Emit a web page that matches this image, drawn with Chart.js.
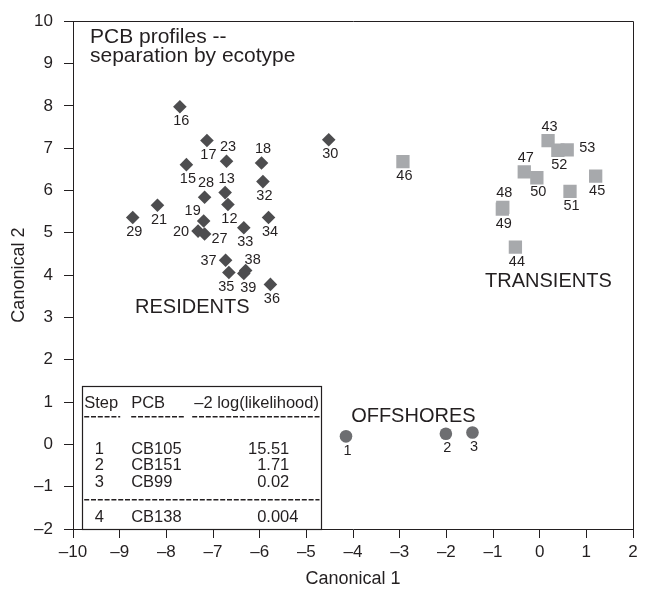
<!DOCTYPE html>
<html><head><meta charset="utf-8">
<script src="https://cdn.jsdelivr.net/npm/chart.js@4.4.1/dist/chart.umd.min.js"></script>
<style>html,body{margin:0;padding:0;background:#fff}#wrap{width:646px;height:592px}</style>
</head><body><div id="wrap"><canvas id="c" width="646" height="592"></canvas></div>
<script>
// ---- data ----
const residentIds = ['16','17','23','18','15','32','13','28','12','21','29','34','19','33','20','27','37','35','38','39','36','30'];
const residentX   = [-7.71,-7.13,-6.71,-5.96,-7.57,-5.93,-6.74,-7.18,-6.68,-8.19,-8.72,-5.81,-7.20,-6.34,-7.32,-7.18,-6.73,-6.66,-6.30,-6.34,-5.77,-4.52];
const residentY   = [7.98,7.18,6.69,6.65,6.61,6.21,5.95,5.84,5.67,5.65,5.36,5.36,5.28,5.12,5.04,4.97,4.35,4.06,4.11,4.04,3.78,7.20];

const transientIds = ['43','52','53','47','50','45','51','48','49','44','46'];
const transientX   = [0.18,0.39,0.59,-0.33,-0.06,1.20,0.65,-0.79,-0.80,-0.52,-2.93];
const transientY   = [7.18,6.95,6.96,6.44,6.30,6.34,5.98,5.60,5.56,4.66,6.68];

const offshoreIds = ['1','2','3'];
const offshoreX   = [-4.15,-2.01,-1.44];
const offshoreY   = [0.19,0.25,0.28];

const xTicks = [-10,-9,-8,-7,-6,-5,-4,-3,-2,-1,0,1,2];
const yTicks = [-2,-1,0,1,2,3,4,5,6,7,8,9,10];

const tableHeader = ['Step','PCB','\u20132 log(likelihood)'];
const tableSteps  = ['1','2','3','4'];
const tablePCB    = ['CB105','CB151','CB99','CB138'];
const tableLL     = ['15.51','1.71','0.02','0.004'];

const groupNames = ['RESIDENTS','TRANSIENTS','OFFSHORES'];
const titleLines = ['PCB profiles --','separation by ecotype'];

// ---- styles ----
const FONT = '"Liberation Sans", Arial, Helvetica, sans-serif';
const INK = '#231f20';
const toPts = (xs, ys) => xs.map((x, i) => ({x, y: ys[i]}));
const fmt = v => v < 0 ? '\u2013' + Math.abs(v) : String(v);

const labelPlace = {'23':'a','18':'a','13':'a','28':'a','19':'ul','20':'l','27':'r','37':'l','38':'ur',
                    '43':'a','47':'a','48':'a','53':'r2','35':'bl','39':'br'};
const placeOff = {b:[1.5,14.5], a:[1.5,-14], l:[-17,1], r:[15,5], r2:[20,-1.5], ul:[-11,-10], ur:[7,-10],
                  bl:[-2.5,14.5], br:[4.5,14.5]};
// group name anchors in data coordinates (left, baseline)
const groupAnchors = [[-8.67,3.10],[-1.17,3.73],[-4.04,0.52]];

const annot = {
  id: 'annot',
  afterDatasetsDraw(chart) {
    const ctx = chart.ctx, ca = chart.chartArea;
    const xs = chart.scales.x, ys = chart.scales.y;
    ctx.save();
    // frame top/right
    ctx.strokeStyle = INK; ctx.lineWidth = 1;
    ctx.beginPath();
    ctx.moveTo(Math.round(ca.left) + 0.5, Math.round(ca.top) + 0.5);
    ctx.lineTo(Math.round(ca.right) + 0.5, Math.round(ca.top) + 0.5);
    ctx.lineTo(Math.round(ca.right) + 0.5, Math.round(ca.bottom) + 0.5);
    ctx.stroke();

    // point labels
    ctx.fillStyle = INK;
    ctx.font = '14.5px ' + FONT;
    ctx.textAlign = 'center'; ctx.textBaseline = 'middle';
    chart.data.datasets.forEach((ds, di) => {
      const meta = chart.getDatasetMeta(di);
      meta.data.forEach((el, i) => {
        const lab = ds.ids[i];
        const off = placeOff[labelPlace[lab] || 'b'];
        ctx.fillText(lab, el.x + off[0], el.y + off[1]);
      });
    });

    // group names
    ctx.font = '20px ' + FONT;
    ctx.textAlign = 'left'; ctx.textBaseline = 'alphabetic';
    groupNames.forEach((g, i) => {
      ctx.fillText(g, xs.getPixelForValue(groupAnchors[i][0]), ys.getPixelForValue(groupAnchors[i][1]));
    });

    // title
    ctx.font = '21px ' + FONT;
    ctx.fillText(titleLines[0], ca.left + 17, ca.top + 22);
    ctx.fillText(titleLines[1], ca.left + 17, ca.top + 41);

    // table
    const L = ca.left + 8.7, T = ca.top + 365, R = ca.left + 248, B = ca.top + 507.7;
    ctx.fillStyle = '#fff';
    ctx.fillRect(L, T, R - L, B - T);
    ctx.strokeStyle = INK; ctx.lineWidth = 1.2;
    ctx.strokeRect(Math.round(L) + 0.5, Math.round(T) + 0.5, Math.round(R - L), Math.round(B - T));
    ctx.fillStyle = INK;
    ctx.font = '16.5px ' + FONT;
    const c1 = L + 2.5, c2 = L + 49.5, c3 = L + 112.5;
    ctx.fillText(tableHeader[0], c1, T + 22);
    ctx.fillText(tableHeader[1], c2, T + 22);
    ctx.fillText(tableHeader[2], c3, T + 22);
    // dashed rules
    ctx.setLineDash([5, 1.8]); ctx.lineWidth = 1.4;
    const dash = (x1, x2, y) => { ctx.beginPath(); ctx.moveTo(x1, y); ctx.lineTo(x2, y); ctx.stroke(); };
    dash(c1, L + 38.5, T + 30.5);
    dash(c2, L + 103.5, T + 30.5);
    dash(L + 110.5, R - 1.5, T + 30.5);
    dash(c1, R - 1.5, T + 113.5);
    ctx.setLineDash([]);
    const rowY = [T + 67.7, T + 83.3, T + 101, T + 136];
    const decX = L + 207.6 - ctx.measureText('.51').width;
    tableSteps.forEach((s, i) => {
      ctx.textAlign = 'center';
      ctx.fillText(s, L + 17.6, rowY[i]);
      ctx.textAlign = 'left';
      ctx.fillText(tablePCB[i], c2, rowY[i]);
      const parts = tableLL[i].split('.');
      ctx.textAlign = 'right';
      ctx.fillText(parts[0], decX, rowY[i]);
      ctx.textAlign = 'left';
      ctx.fillText('.' + parts[1], decX, rowY[i]);
    });
    ctx.restore();
  }
};

const axisCommon = (ticks, title, isX) => ({
  type: 'linear',
  min: ticks[0], max: ticks[ticks.length - 1],
  position: isX ? 'bottom' : 'left',
  grid: {drawOnChartArea: false, drawTicks: true, tickLength: 9, color: INK, lineWidth: 1},
  border: {display: true, color: INK, width: 1},
  ticks: {color: INK, font: {family: FONT, size: 17}, padding: isX ? 4 : 11, autoSkip: false,
          maxRotation: 0, callback: v => fmt(v)},
  afterBuildTicks: s => { s.ticks = ticks.map(v => ({value: v})); },
  afterFit: s => { if (isX) s.height = 63; else s.width = 73; },
  title: {display: true, text: title, color: INK, font: {family: FONT, size: 18},
          padding: isX ? {top: 0, bottom: 2} : {top: 8, bottom: 0}}
});

new Chart(document.getElementById('c'), {
  type: 'scatter',
  data: {
    datasets: [
      {ids: residentIds, data: toPts(residentX, residentY), pointStyle: 'rectRot', pointRadius: 6.8,
       backgroundColor: '#4d4d4f', borderWidth: 0},
      {ids: transientIds, data: toPts(transientX, transientY), pointStyle: 'rect', pointRadius: 9.4,
       backgroundColor: '#a7a9ac', borderWidth: 0},
      {ids: offshoreIds, data: toPts(offshoreX, offshoreY), pointStyle: 'circle', pointRadius: 6.3,
       backgroundColor: '#6d6e71', borderWidth: 0}
    ]
  },
  options: {
    responsive: false, animation: false, devicePixelRatio: 1,
    layout: {padding: {top: 14, right: 13, left: 0, bottom: 0}},
    plugins: {legend: {display: false}, tooltip: {enabled: false}},
    scales: {x: axisCommon(xTicks, 'Canonical 1', true), y: axisCommon(yTicks, 'Canonical 2', false)}
  },
  plugins: [annot]
});
</script></body></html>
